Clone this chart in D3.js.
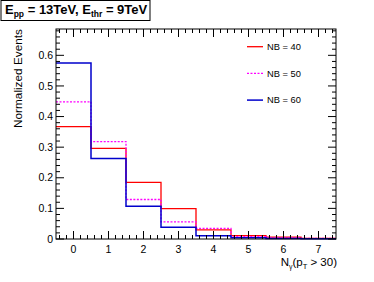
<!DOCTYPE html>
<html>
<head>
<meta charset="utf-8">
<script src="https://cdn.jsdelivr.net/npm/d3@7"></script>
<style>
body { margin: 0; background: #fff; }
svg text { font-family: "Liberation Sans", Arial, sans-serif; }
</style>
</head>
<body>
<script>
// bins of N_gamma
var bins = [0, 1, 2, 3, 4, 5, 6, 7];
var nb40 = [0.367, 0.296, 0.185, 0.099, 0.030, 0.011, 0.006, 0.002];
var nb50 = [0.448, 0.318, 0.129, 0.056, 0.035, 0.008, 0.004, 0.002];
var nb60 = [0.575, 0.263, 0.107, 0.038, 0.011, 0.004, 0.002, 0.001];
var yTicks = [0, 0.1, 0.2, 0.3, 0.4, 0.5, 0.6];

var series = [
  {name: "NB = 40", vals: nb40, color: "#ff0000", dash: null, w: 1.3},
  {name: "NB = 50", vals: nb50, color: "#ff00ff", dash: "2,1.5", w: 1.3},
  {name: "NB = 60", vals: nb60, color: "#0000cc", dash: null, w: 1.5}
];

var W = 374, H = 282;
var margin = {top: 29, right: 38, bottom: 43, left: 56};
var width = W - margin.left - margin.right,
    height = H - margin.top - margin.bottom;

var svg = d3.select("body").append("svg").attr("width", W).attr("height", H);

var x = d3.scaleLinear().domain([-0.5, 7.5]).range([0, width]);
var y = d3.scaleLinear().domain([0, 0.686]).range([height, 0]);

var g = svg.append("g").attr("transform", "translate(" + margin.left + "," + margin.top + ")");

// histograms as steps
series.forEach(function(s) {
  var pts = [];
  s.vals.forEach(function(v, i) {
    pts.push([bins[i] - 0.5, v]);
    pts.push([bins[i] + 0.5, v]);
  });
  var line = d3.line().x(function(d) { return x(d[0]); }).y(function(d) { return y(d[1]); });
  g.append("path")
    .attr("d", line(pts))
    .attr("fill", "none")
    .attr("stroke", s.color)
    .attr("stroke-width", s.w)
    .attr("stroke-dasharray", s.dash);
});

// frame
g.append("rect").attr("width", width).attr("height", height)
  .attr("fill", "none").attr("stroke", "#000").attr("stroke-width", 1);

// y axis ticks (left + right)
var yMinor = d3.range(0, 0.681, 0.02);
yMinor.forEach(function(v) {
  var major = Math.abs(v * 10 - Math.round(v * 10)) < 1e-6;
  var len = major ? 8 : 4;
  g.append("line").attr("x1", 0).attr("x2", len).attr("y1", y(v)).attr("y2", y(v)).attr("stroke", "#000");
  g.append("line").attr("x1", width).attr("x2", width - len).attr("y1", y(v)).attr("y2", y(v)).attr("stroke", "#000");
});
yTicks.forEach(function(v) {
  g.append("text").attr("x", -3).attr("y", y(v)).attr("dy", "0.35em")
    .attr("text-anchor", "end").attr("font-size", 10.5).text(v === 0 ? "0" : d3.format(".1f")(v));
});

// x axis ticks (bottom + top)
var xMinor = d3.range(-0.4, 7.5, 0.2);
xMinor.forEach(function(v) {
  var major = Math.abs(v - Math.round(v)) < 1e-6;
  var len = major ? 8 : 4;
  g.append("line").attr("x1", x(v)).attr("x2", x(v)).attr("y1", height).attr("y2", height - len).attr("stroke", "#000");
  g.append("line").attr("x1", x(v)).attr("x2", x(v)).attr("y1", 0).attr("y2", len).attr("stroke", "#000");
});
bins.forEach(function(b) {
  g.append("text").attr("x", x(b)).attr("y", height + 14)
    .attr("text-anchor", "middle").attr("font-size", 10.5).text(b);
});

// axis titles
var xl = svg.append("text").attr("x", 337).attr("y", 266).attr("text-anchor", "end").attr("font-size", 11.5);
xl.append("tspan").text("N");
xl.append("tspan").attr("dy", 3).attr("font-size", 7).text("\u03b3");
xl.append("tspan").attr("dy", -3).text("(p");
xl.append("tspan").attr("dy", 3).attr("font-size", 7.5).text("T");
xl.append("tspan").attr("dy", -3).text(" > 30)");

svg.append("text").attr("transform", "translate(22,29) rotate(-90)")
  .attr("text-anchor", "end").attr("font-size", 11.8).text("Normalized Events");

// legend
series.forEach(function(s, i) {
  var ly = 46.7 + i * 26.7;
  svg.append("line").attr("x1", 247).attr("x2", 263).attr("y1", ly).attr("y2", ly)
    .attr("stroke", s.color).attr("stroke-width", s.w).attr("stroke-dasharray", s.dash);
  svg.append("text").attr("x", 267).attr("y", ly).attr("dy", "0.35em")
    .attr("font-size", 9.3).text(s.name);
});

// title box
svg.append("rect").attr("x", 1).attr("y", 0.5).attr("width", 149).attr("height", 20)
  .attr("fill", "#fff").attr("stroke", "#000").attr("stroke-width", 1);
var t = svg.append("text").attr("x", 5).attr("y", 14).attr("font-size", 13).attr("font-weight", "bold");
t.append("tspan").text("E");
t.append("tspan").attr("dy", 3).attr("font-size", 8.5).text("pp");
t.append("tspan").attr("dy", -3).text(" = 13TeV, E");
t.append("tspan").attr("dy", 3).attr("font-size", 8.5).text("thr");
t.append("tspan").attr("dy", -3).text(" = 9TeV");
</script>
</body>
</html>
